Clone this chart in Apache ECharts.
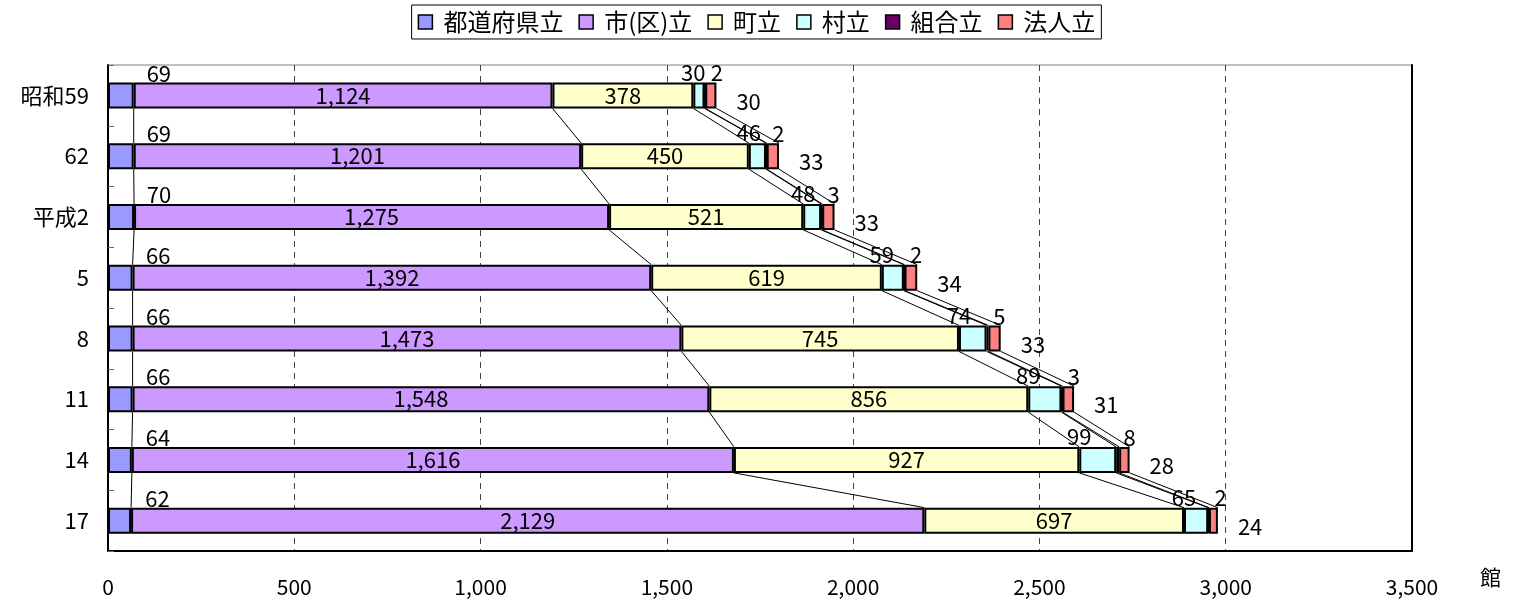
<!DOCTYPE html>
<html>
<head>
<meta charset="utf-8">
<script src="https://cdn.jsdelivr.net/npm/echarts@6/dist/echarts.min.js"></script>
<style>
  html, body { margin: 0; padding: 0; background: #fff; }
  #chart { width: 1513px; height: 604px; }
</style>
</head>
<body>
<div id="chart"></div>
<script>
// 設置者別の館数（年度別）
const years = ['昭和59', '62', '平成2', '5', '8', '11', '14', '17'];
const seriesNames = ['都道府県立', '市(区)立', '町立', '村立', '組合立', '法人立'];
const prefectural = [69, 69, 70, 66, 66, 66, 64, 62];
const municipal   = [1124, 1201, 1275, 1392, 1473, 1548, 1616, 2129];
const town        = [378, 450, 521, 619, 745, 856, 927, 697];
const village     = [30, 46, 48, 59, 74, 89, 99, 65];
const union       = [2, 2, 3, 2, 5, 3, 8, 2];
const corporate   = [30, 33, 33, 34, 33, 31, 28, 24];
const xTicks = [0, 500, 1000, 1500, 2000, 2500, 3000, 3500];

const values = [prefectural, municipal, town, village, union, corporate];
const colors = ['#9999FF', '#CC99FF', '#FFFFCC', '#CCFFFF', '#660066', '#FF8080'];
const FONT = '"Noto Sans CJK JP", "Noto Sans", sans-serif';
const BAR_W = 26;

// 各系列の右端（累積値）
const cumEnds = values.map((_, k) =>
  years.map((_, i) => values.slice(0, k + 1).reduce((s, arr) => s + arr[i], 0))
);

// 区分線：上の棒の下端から次の棒の上端まで
const seriesLineData = [];
cumEnds.forEach(ends => {
  for (let i = 0; i < years.length - 1; i++) {
    seriesLineData.push([ends[i], i, ends[i + 1], i + 1]);
  }
});

const labelStyles = [
  { show: true, position: 'top', distance: 0, offset: [38, 2] },
  { show: true, position: 'inside' },
  { show: true, position: 'inside' },
  { show: true, position: [0, 1], align: 'center', verticalAlign: 'bottom' },
  { show: true, position: 'top', distance: 0, offset: [12, 2] },
  { show: true, position: 'right', distance: 20, offset: [0, 6] }
];

const barSeries = seriesNames.map((name, k) => ({
  name: name,
  type: 'bar',
  stack: 'total',
  barWidth: BAR_W,
  data: values[k],
  itemStyle: { color: colors[k], borderColor: '#000', borderWidth: 2 },
  label: Object.assign({
    color: '#000',
    fontSize: 22,
    fontFamily: FONT,
    formatter: p => p.value.toLocaleString('en-US')
  }, labelStyles[k]),
  z: 3
}));

const lineSeries = {
  type: 'custom',
  data: seriesLineData,
  silent: true,
  z: 2,
  renderItem: function (params, api) {
    const half = BAR_W / 2;
    const p1 = api.coord([api.value(0), api.value(1)]);
    const p2 = api.coord([api.value(2), api.value(3)]);
    return {
      type: 'line',
      shape: { x1: p1[0], y1: p1[1] + half, x2: p2[0], y2: p2[1] - half },
      style: { stroke: '#000', lineWidth: 1 }
    };
  }
};

const chart = echarts.init(document.getElementById('chart'));
chart.setOption({
  animation: false,
  textStyle: { fontFamily: FONT },
  legend: {
    data: seriesNames,
    top: 5,
    left: 'center',
    borderColor: '#000',
    borderWidth: 1,
    padding: [5, 6, 5, 6],
    itemWidth: 14,
    itemHeight: 14,
    itemGap: 15,
    icon: 'rect',
    itemStyle: { borderColor: '#000', borderWidth: 1.5 },
    textStyle: { fontSize: 24, color: '#000', fontFamily: FONT, padding: [0, 0, 0, 6] }
  },
  grid: {
    left: 108, right: 101, top: 65, bottom: 53,
    show: true, borderColor: '#808080', borderWidth: 1, backgroundColor: '#fff'
  },
  xAxis: {
    type: 'value',
    min: 0,
    max: 3500,
    interval: 500,
    name: '館',
    nameLocation: 'end',
    nameGap: 68,
    nameTextStyle: { fontSize: 21, color: '#000', verticalAlign: 'top', padding: [16, 0, 0, 0] },
    axisLine: { show: true, lineStyle: { color: '#000', width: 2 } },
    axisTick: { show: false },
    axisLabel: {
      color: '#000', fontSize: 21, margin: 26,
      formatter: v => xTicks.includes(v) ? v.toLocaleString('en-US') : ''
    },
    splitLine: {
      show: true, showMinLine: false, showMaxLine: false,
      lineStyle: { color: '#444', type: [6, 5], width: 1 }
    }
  },
  yAxis: [{
    type: 'category',
    data: years,
    inverse: true,
    axisLine: { show: true, lineStyle: { color: '#000', width: 2 } },
    axisTick: { show: true, inside: true, length: 6, lineStyle: { color: '#666' } },
    axisLabel: { color: '#000', fontSize: 22, margin: 19, fontFamily: FONT }
  }, {
    type: 'category',
    data: years,
    inverse: true,
    position: 'right',
    axisLine: { show: true, lineStyle: { color: '#000', width: 2 } },
    axisTick: { show: false },
    axisLabel: { show: false }
  }],
  series: barSeries.concat([lineSeries])
});
</script>
</body>
</html>
